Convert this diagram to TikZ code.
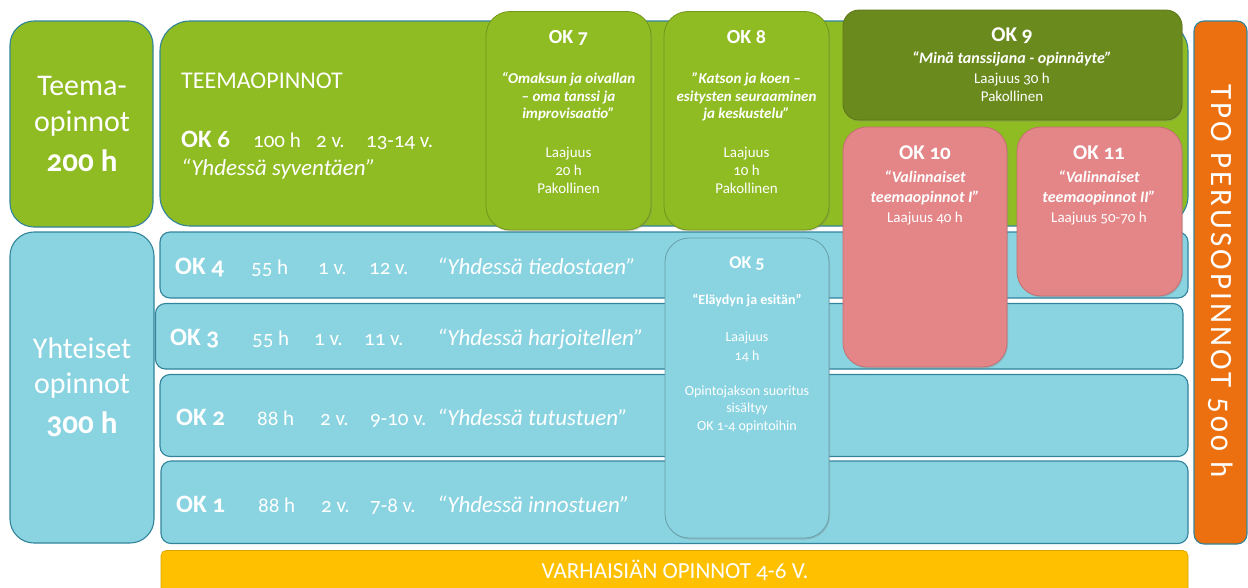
\documentclass[tikz,border=0pt]{standalone}
\usepackage{fontspec}
\setmainfont{Carlito}[Numbers=OldStyle]
\newfontfamily\tpofont{Carlito}[Numbers=OldStyle,LetterSpace=10]
\usetikzlibrary{positioning,shadows}
\definecolor{leafgreen}{HTML}{8FBB23}
\definecolor{olivegreen}{HTML}{6B8A1D}
\definecolor{rosepink}{HTML}{E48587}
\definecolor{skyblue}{HTML}{8AD4E1}
\definecolor{tpoorange}{HTML}{EC7010}
\definecolor{amber}{HTML}{FFC000}
\definecolor{tealline}{HTML}{31849B}
\tikzset{
  block/.style={draw=tealline,line width=1.1pt,inner sep=0pt,outer sep=0pt},
  greenblock/.style={block,fill=leafgreen,rounded corners=24pt},
  blueblock/.style={block,fill=skyblue,rounded corners=24pt},
  rowbox/.style={block,fill=skyblue,rounded corners=10pt},
  tpobox/.style={block,fill=tpoorange,rounded corners=10pt},
  basebox/.style={draw=amber!85!black,line width=0.6pt,fill=amber,
                  rounded corners=5pt,inner sep=0pt},
  card/.style={inner sep=0pt,line width=0.8pt,rounded corners=24pt,
               drop shadow={opacity=0.3,shadow xshift=1pt,shadow yshift=-1.5pt}},
  greencard/.style={card,draw=leafgreen!80!black,fill=leafgreen},
  olivecard/.style={card,draw=olivegreen!85!black,fill=olivegreen,rounded corners=16pt},
  pinkcard/.style={card,draw=rosepink!85!black,fill=rosepink},
  bluecard/.style={card,draw=skyblue!75!black,fill=skyblue},
  wtxt/.style={text=white,inner sep=0pt,anchor=base},
  wtxtl/.style={wtxt,anchor=base west},
  sidefont/.style={font=\fontsize{30}{36}\selectfont},
  sidebold/.style={font=\fontsize{31}{37}\selectfont\bfseries},
  headfont/.style={font=\fontsize{24}{29}\selectfont},
  okfont/.style={font=\fontsize{25}{30}\selectfont\bfseries},
  numfont/.style={font=\fontsize{21}{25}\selectfont},
  quotefont/.style={font=\fontsize{23}{27}\selectfont\itshape},
  cardhead/.style={font=\fontsize{20}{24}\selectfont\bfseries},
  cardquote/.style={font=\fontsize{15}{18}\selectfont\bfseries\itshape},
  cardinfo/.style={font=\fontsize{15}{18}\selectfont},
  smallinfo/.style={font=\fontsize{14}{17}\selectfont}
}
\begin{document}
\begin{tikzpicture}[x=1pt,y=-1pt]
  \useasboundingbox (0,0) rectangle (1248,587);
  % left side blocks
  \node[greenblock,minimum width=143pt,minimum height=206pt] (teema) at (81.5,124) {};
  \node[wtxt,sidefont] (teema1) at (82,95) {Teema-};
  \node[wtxt,sidefont] (teema2) at (82,131) {opinnot};
  \node[wtxt,sidebold] (teema3) at (82,171) {200 h};
  \node[blueblock,minimum width=144pt,minimum height=311pt] (yht) at (82,387.5) {};
  \node[wtxt,sidefont] (yht1) at (82,358) {Yhteiset};
  \node[wtxt,sidefont] (yht2) at (82,393) {opinnot};
  \node[wtxt,sidebold] (yht3) at (82,433) {300 h};
  % theme studies
  \node[greenblock,rounded corners=30pt,minimum width=1028pt,minimum height=205pt] (teemaop) at (674,123.5) {};
  \node[wtxtl,headfont] (teemahead) at (181,88) {TEEMAOPINNOT};
  \node[wtxtl,okfont] (ok6) at (181,147) {OK 6};
  \node[wtxtl,numfont] (ok6h) at (253,147) {100 h};
  \node[wtxtl,numfont] (ok6a) at (316,147) {2 v.};
  \node[wtxtl,numfont] (ok6b) at (366,147) {13-14 v.};
  \node[wtxtl,quotefont] (ok6q) at (181,175) {“Yhdessä syventäen”};
  % common studies rows
  \node[rowbox,minimum width=1028pt,minimum height=66pt] (row4) at (674,265) {};
  \node[rowbox,minimum width=1027.5pt,minimum height=65.5pt] (row3) at (669.25,336.25) {};
  \node[rowbox,minimum width=1028pt,minimum height=82pt] (row2) at (674,415.5) {};
  \node[rowbox,minimum width=1027pt,minimum height=82.5pt] (row1) at (674.5,502.25) {};
  \foreach \n/\y/\xo/\xh/\xa/\xb/\h/\a/\b/\q in
    {4/274/175/251/318/369/55 h/1 v./12 v./tiedostaen,
     3/345/170/252/314/364/55 h/1 v./11 v./harjoitellen,
     2/425/176/257/320/370/88 h/2 v./9-10 v./tutustuen,
     1/512/176/258/321/370/88 h/2 v./7-8 v./innostuen}{
    \node[wtxtl,okfont] (ok\n) at (\xo,\y) {OK \n};
    \node[wtxtl,numfont] (ok\n h) at (\xh,\y) {\h};
    \node[wtxtl,numfont] (ok\n a) at (\xa,\y) {\a};
    \node[wtxtl,numfont] (ok\n b) at (\xb,\y) {\b};
    \node[wtxtl,quotefont] (ok\n q) at (437,\y) {“Yhdessä \q”};
  }
  % early childhood and total
  \node[basebox,minimum width=1027pt,minimum height=49pt] (varh) at (674.5,575) {};
  \node[wtxt,font=\fontsize{23}{27}\selectfont] (varhtxt) at (675,578) {VARHAISIÄN OPINNOT 4-6 V.};
  \node[tpobox,minimum width=53pt,minimum height=523pt] (tpo) at (1220.5,282.5) {};
  \node[text=white,inner sep=0pt,rotate=-90,font=\fontsize{31}{37}\tpofont] (tpotxt) at (1221,281) {TPO PERUSOPINNOT 500 h};
  % OK 7 and OK 8
  \node[greencard,minimum width=165pt,minimum height=218.5pt] (ok7) at (568.5,120.75) {};
  \node[wtxt,cardhead] (ok7t) at (568.5,43) {OK 7};
  \foreach \y/\t in {83.5/{“Omaksun ja oivallan}, 101/{– oma tanssi ja}, 118.5/{improvisaatio”}}
    \node[wtxt,cardquote] at (568.5,\y) {\t};
  \foreach \y/\t in {157/Laajuus, 175/20 h, 193/Pakollinen}
    \node[wtxt,cardinfo] at (568.5,\y) {\t};
  \node[greencard,minimum width=165pt,minimum height=218.5pt] (ok8) at (746.5,120.75) {};
  \node[wtxt,cardhead] (ok8t) at (746.5,43) {OK 8};
  \foreach \y/\t in {83.5/{”Katson ja koen –}, 101/{esitysten seuraaminen}, 118.5/{ja keskustelu”}}
    \node[wtxt,cardquote] at (746.5,\y) {\t};
  \foreach \y/\t in {157/Laajuus, 175/10 h, 193/Pakollinen}
    \node[wtxt,cardinfo] at (746.5,\y) {\t};
  % OK 9 - OK 11
  \node[olivecard,minimum width=339pt,minimum height=110pt] (ok9) at (1012.5,65) {};
  \node[wtxt,cardhead,font=\fontsize{21}{25}\selectfont\bfseries] (ok9t) at (1012,41) {OK 9};
  \node[wtxt,font=\fontsize{16}{19}\selectfont\bfseries\itshape] (ok9q) at (1012,63) {“Minä tanssijana - opinnäyte”};
  \node[wtxt,cardinfo] (ok9l) at (1012,83) {Laajuus 30 h};
  \node[wtxt,cardinfo] (ok9p) at (1012,101) {Pakollinen};
  \node[pinkcard,minimum width=164pt,minimum height=240pt] (ok10) at (925,247) {};
  \node[wtxt,font=\fontsize{21}{25}\selectfont\bfseries] (ok10t) at (925,159) {OK 10};
  \node[wtxt,cardquote,font=\fontsize{16}{19}\selectfont\bfseries\itshape] (ok10q1) at (925,182) {“Valinnaiset};
  \node[wtxt,cardquote,font=\fontsize{16}{19}\selectfont\bfseries\itshape] (ok10q2) at (925,202) {teemaopinnot I”};
  \node[wtxt,cardinfo] (ok10l) at (925,222) {Laajuus 40 h};
  \node[pinkcard,minimum width=165pt,minimum height=169pt] (ok11) at (1099.5,211.5) {};
  \node[wtxt,font=\fontsize{21}{25}\selectfont\bfseries] (ok11t) at (1099,159) {OK 11};
  \node[wtxt,cardquote,font=\fontsize{16}{19}\selectfont\bfseries\itshape] (ok11q1) at (1099,182) {“Valinnaiset};
  \node[wtxt,cardquote,font=\fontsize{16}{19}\selectfont\bfseries\itshape] (ok11q2) at (1099,202) {teemaopinnot II”};
  \node[wtxt,cardinfo] (ok11l) at (1099,222) {Laajuus 50-70 h};
  % OK 5
  \node[bluecard,minimum width=164pt,minimum height=300pt] (ok5) at (747,388) {};
  \node[wtxt,font=\fontsize{18}{22}\selectfont\bfseries] (ok5t) at (747,268) {OK 5};
  \node[wtxt,font=\fontsize{14}{17}\selectfont\bfseries] (ok5q) at (747,304) {“Eläydyn ja esitän”};
  \foreach \y/\t in {341.5/Laajuus, 360/14 h, 395/Opintojakson suoritus, 412/sisältyy, 430/OK 1-4 opintoihin}
    \node[wtxt,smallinfo] at (747,\y) {\t};
\end{tikzpicture}
\end{document}
